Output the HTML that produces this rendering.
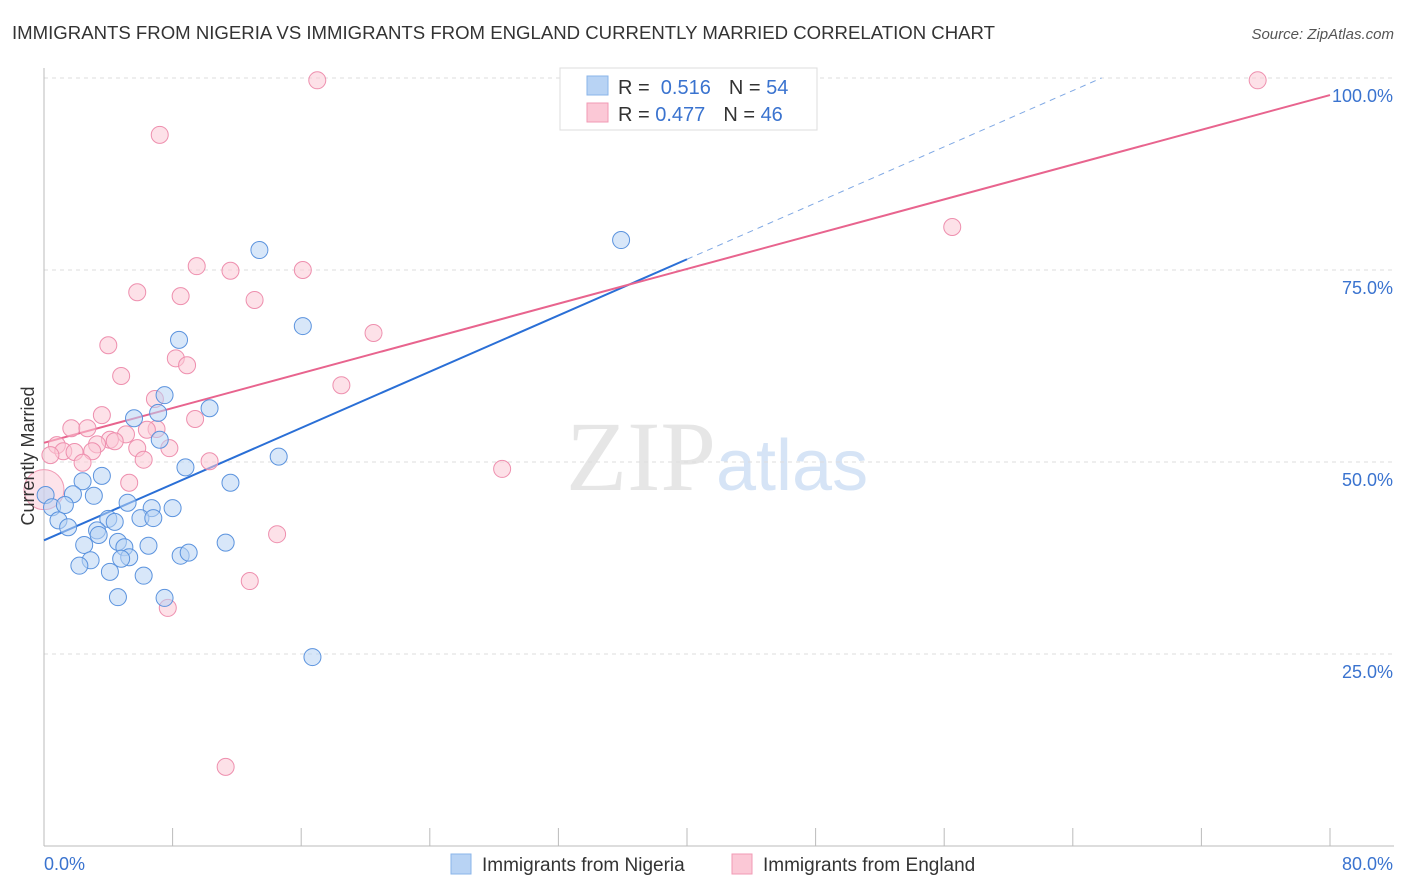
<!DOCTYPE html>
<html><head><meta charset="utf-8"><style>
body{margin:0;background:#fff;font-family:"Liberation Sans",sans-serif;}
svg{display:block}
</style></head><body>
<svg id="chart" width="1406" height="892" viewBox="0 0 1406 892">
<text x="12" y="39" font-size="18" fill="#333" textLength="983" lengthAdjust="spacingAndGlyphs">IMMIGRANTS FROM NIGERIA VS IMMIGRANTS FROM ENGLAND CURRENTLY MARRIED CORRELATION CHART</text>
<text x="1394" y="39" font-size="15" fill="#555" font-style="italic" text-anchor="end">Source: ZipAtlas.com</text>
<text x="716" y="490" font-size="100" fill="#e6e6e6" text-anchor="end" font-family="Liberation Serif,serif">ZIP</text>
<text x="716" y="490" font-size="72" fill="#d6e4f6">atlas</text>
<g id="grid"></g>
<g id="axes"></g>
<g id="lines"></g>
<g id="pts"></g>
<text transform="translate(34,456) rotate(-90)" font-size="18" fill="#333" text-anchor="middle">Currently Married</text>
<g>
<rect x="560" y="68" width="257" height="62" fill="#fff" stroke="#ddd"/>
<rect x="587" y="76" width="21" height="19" fill="#b8d3f4" stroke="#8ab4ea"/>
<rect x="587" y="103" width="21" height="19" fill="#fbc8d6" stroke="#f19ab4"/>
<text x="618" y="94" font-size="20" fill="#333">R = <tspan fill="#3a73cf">&#160;0.516</tspan><tspan dx="18">N = </tspan><tspan fill="#3a73cf">54</tspan></text>
<text x="618" y="121" font-size="20" fill="#333">R = <tspan fill="#3a73cf">0.477</tspan><tspan dx="18">N = </tspan><tspan fill="#3a73cf">46</tspan></text>
</g>
<g>
<rect x="451" y="854" width="20" height="20" fill="#b8d3f4" stroke="#8ab4ea"/>
<text x="482" y="871" font-size="19" fill="#333">Immigrants from Nigeria</text>
<rect x="732" y="854" width="20" height="20" fill="#fbc8d6" stroke="#f19ab4"/>
<text x="763" y="871" font-size="19" fill="#333">Immigrants from England</text>
</g>
</svg>
<script>
const yTicks=[25,50,75,100];
const yTickLabels=["25.0%","50.0%","75.0%","100.0%"];
const xEndLabels=["0.0%","80.0%"];
const nigeriaX=[35.9,13.4,16.1,8.4,7.5,10.3,5.6,7.1,7.2,14.6,8.8,3.6,11.6,2.4,1.8,3.1,5.2,8.0,6.7,0.1,0.5,1.3,0.9,1.5,4.0,4.4,3.3,6.0,6.8,3.4,4.6,5.0,2.5,6.5,5.3,4.8,11.3,8.5,9.0,2.9,2.2,4.1,6.2,4.6,7.5,16.7];
const nigeriaY=[78.9,77.6,67.7,65.9,58.7,57.0,55.7,56.4,52.9,50.7,49.3,48.2,47.3,47.5,45.8,45.6,44.7,44.0,44.0,45.7,44.1,44.4,42.4,41.5,42.6,42.2,41.1,42.7,42.7,40.5,39.6,38.9,39.2,39.1,37.6,37.4,39.5,37.8,38.2,37.2,36.5,35.7,35.2,32.4,32.3,24.6];
const englandX=[17.0,75.5,7.2,56.5,9.5,11.6,16.1,5.8,8.5,13.1,20.5,4.0,8.2,8.9,4.8,18.5,6.9,3.6,9.4,1.7,2.7,7.0,6.4,5.1,4.1,3.3,4.4,0.8,5.8,7.8,1.2,1.9,3.0,2.4,6.2,10.3,28.5,5.3,14.5,12.8,7.7,11.3,0.4];
const englandY=[99.7,99.7,92.6,80.6,75.5,74.9,75.0,72.1,71.6,71.1,66.8,65.2,63.5,62.6,61.2,60.0,58.2,56.1,55.6,54.4,54.4,54.3,54.2,53.6,52.9,52.3,52.7,52.2,51.8,51.8,51.4,51.3,51.4,49.9,50.3,50.1,49.1,47.3,40.6,34.5,31.0,10.3,50.9];
const nigeriaFit=[39.8,0.915];
const englandFit=[52.5,0.566];
const NS="http://www.w3.org/2000/svg";
const X=v=>44+v*16.075, Y=v=>846-v*7.68;
function mk(t,a,p){const e=document.createElementNS(NS,t);for(const k in a)e.setAttribute(k,a[k]);p.appendChild(e);return e;}
const grid=document.getElementById('grid'),axes=document.getElementById('axes'),lines=document.getElementById('lines'),pts=document.getElementById('pts');
yTicks.forEach((t,i)=>{
 const l=mk('line',{x1:44,x2:1394,y1:Y(t),y2:Y(t),stroke:'#ddd','stroke-dasharray':'4,4'},grid);
 
 
 const tx=mk('text',{x:1393,y:Y(t)+24,'font-size':18,fill:'#3a73cf','text-anchor':'end'},axes);
 tx.textContent=yTickLabels[i];
 
 
});
mk('line',{x1:44,x2:44,y1:68,y2:846,stroke:'#bbb'},axes);
mk('line',{x1:44,x2:1394,y1:846,y2:846,stroke:'#bbb'},axes);
for(let i=0;i<=10;i++){const t=mk('line',{x1:X(i*8),x2:X(i*8),y1:828,y2:846,stroke:'#bbb'},axes);
 
 }
const xl0=mk('text',{x:44,y:870,'font-size':18,fill:'#3a73cf'},axes);xl0.textContent=xEndLabels[0];


const xl1=mk('text',{x:1393,y:870,'font-size':18,fill:'#3a73cf','text-anchor':'end'},axes);xl1.textContent=xEndLabels[1];


function dots(xs,ys,fill,stroke,name){xs.forEach((x,i)=>{const c=mk('circle',{cx:X(x),cy:Y(ys[i]),r:8.5,fill:fill,'fill-opacity':0.55,stroke:stroke,'stroke-width':1},pts);
 
 });}
const big=mk('circle',{cx:X(0),cy:Y(46.4),r:20,fill:'#fbc8d6','fill-opacity':0.5,stroke:'#f19ab4'},pts);


dots(englandX,englandY,'#fbc8d6','#ee8fae','england-point');
dots(nigeriaX,nigeriaY,'#b8d3f4','#5b93de','nigeria-point');
const bEnd=(100-nigeriaFit[0])/nigeriaFit[1];
const l1=mk('line',{x1:X(0),y1:Y(nigeriaFit[0]),x2:X(40),y2:Y(nigeriaFit[0]+40*nigeriaFit[1]),stroke:'#2a6fd6','stroke-width':2},lines);


const l2=mk('line',{x1:X(40),y1:Y(nigeriaFit[0]+40*nigeriaFit[1]),x2:X(bEnd),y2:Y(100),stroke:'#7fa8e4','stroke-width':1,'stroke-dasharray':'6,5'},lines);


const l3=mk('line',{x1:X(0),y1:Y(englandFit[0]),x2:X(80),y2:Y(englandFit[0]+80*englandFit[1]),stroke:'#e8648e','stroke-width':2},lines);


</script>
</body></html>
